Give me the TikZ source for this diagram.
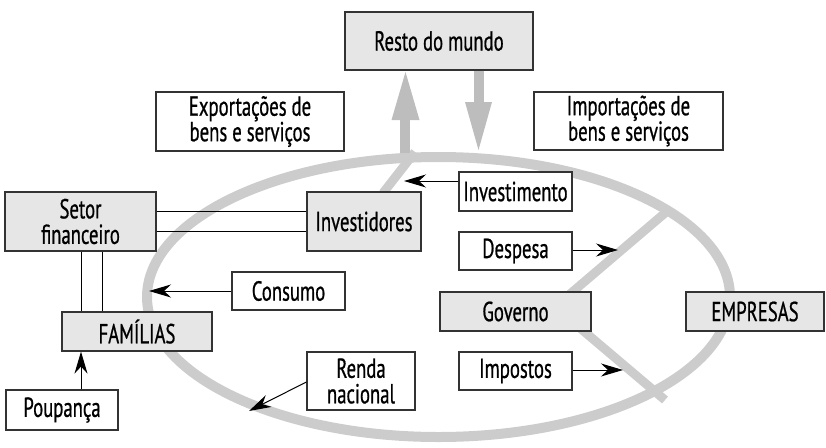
\documentclass[tikz,border=0pt]{standalone}
\usepackage{fontspec}
\setmainfont{PT Sans}[FakeStretch=0.68, FakeBold=0.7]
\usetikzlibrary{arrows.meta}
\definecolor{ringgray}{HTML}{CCCCCC}
\definecolor{arrgray}{HTML}{BDBDBD}
\definecolor{boxgray}{HTML}{E6E6E6}
\definecolor{edge}{HTML}{333333}
\tikzset{
  box/.style={draw=edge, line width=1.2pt, fill=white, inner sep=0pt, align=center,
    font=\fontsize{27.5}{25.5}\selectfont},
  gbox/.style={box, fill=boxgray},
  ring/.style={draw=ringgray, line width=10pt},
  spoke/.style={draw=ringgray, line width=9pt},
  link/.style={draw=black, line width=1pt},
  arr/.style={draw=black, line width=1pt, -{Stealth[length=22pt, width=13pt, inset=7pt]}},
  bigshaft/.style={draw=arrgray, line width=10pt},
  bighead/.style={fill=arrgray, draw=none}
}
\begin{document}
\begin{tikzpicture}[x=1pt,y=-1pt]
\useasboundingbox (0,0) rectangle (826,447);
% ring and spokes
\draw[ring] (438.5,297) ellipse [x radius=291.5pt, y radius=140pt];
\coordinate (tl1) at (415,152);
\coordinate (tl2) at (383,193);
\coordinate (tr1) at (665,213);
\coordinate (tr2) at (570,294);
\coordinate (br1) at (580,328);
\coordinate (br2) at (665,400);
\draw[spoke] (tl1) -- (tl2);
\draw[spoke] (tr1) -- (tr2);
\draw[spoke] (br1) -- (br2);
% boxes
\node[gbox, minimum width=188pt, minimum height=58pt] (rm) at (439,41) {Resto do mundo};
\node[box, minimum width=188pt, minimum height=59pt] (exp) at (250,121.5) {Exportações de\\bens e serviços};
\node[box, minimum width=189pt, minimum height=58pt] (imp) at (628.5,121) {Importações de\\bens e serviços};
\node[box, minimum width=113pt, minimum height=39pt] (invm) at (515.5,191.5) {Investimento};
\node[box, minimum width=113pt, minimum height=38pt] (desp) at (515.5,251) {Despesa};
\node[gbox, minimum width=151pt, minimum height=39pt] (gov) at (515.5,311.5) {Governo};
\node[gbox, minimum width=138pt, minimum height=39pt] (emp) at (755,311.5) {EMPRESAS};
\node[box, minimum width=113pt, minimum height=38pt] (impo) at (515.5,371) {Impostos};
\node[box, minimum width=108pt, minimum height=58pt] (renda) at (361,381) {Renda\\nacional};
\node[gbox, minimum width=114pt, minimum height=59pt] (invd) at (364,221.5) {Investidores};
\node[gbox, minimum width=151pt, minimum height=59pt] (setor) at (80.5,221.5) {Setor\\financeiro};
\node[box, minimum width=113pt, minimum height=38pt] (cons) at (288.5,291) {Consumo};
\node[gbox, minimum width=150pt, minimum height=39pt] (fam) at (137,331.5) {FAMÍLIAS};
\node[box, minimum width=112pt, minimum height=40pt] (poup) at (62,410) {Poupança};
% big gray arrows
\coordinate (upbase) at (405,153);
\coordinate (dnend) at (478.5,150);
\draw[bigshaft] (upbase) -- (405,118);
\fill[bighead] (391.5,120) -- (419.5,120) -- (405.5,72) -- cycle;
\draw[bigshaft] (rm.south -| 478.5,0) -- (478.5,104);
\fill[bighead] (465,102) -- (492,102) -- (dnend) -- cycle;
% links
\draw[link] (setor.east |- 0,211) -- (invd.west |- 0,211);
\draw[link] (setor.east |- 0,231) -- (invd.west |- 0,231);
\draw[link] (setor.south -| 81,0) -- (fam.north -| 81,0);
\draw[link] (setor.south -| 102,0) -- (fam.north -| 102,0);
% arrows
\coordinate (consT) at (149,291);
\coordinate (rendaT) at (249,411);
\coordinate (invmT) at (404,181);
\coordinate (despT) at (618,250);
\coordinate (impoT) at (623,370);
\draw[arr] (poup.north -| 81,0) -- (fam.south -| 81,0);
\draw[arr] (cons.west) -- (consT);
\draw[arr] (renda.west |- 0,382) -- (rendaT);
\draw[arr] (invm.west |- 0,181) -- (invmT);
\draw[arr] (desp.east |- 0,250) -- (despT);
\draw[arr] (impo.east |- 0,370) -- (impoT);
\end{tikzpicture}
\end{document}
